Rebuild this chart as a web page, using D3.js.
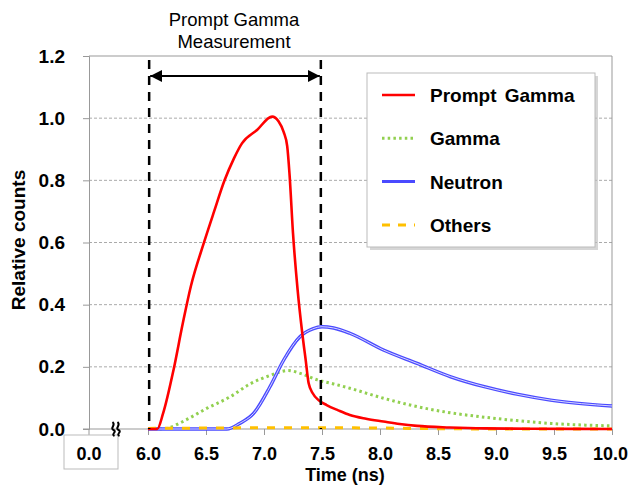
<!DOCTYPE html>
<html><head><meta charset="utf-8">
<script src="https://cdn.jsdelivr.net/npm/d3@7"></script>
<style>body{margin:0;background:#fff;} svg{display:block;font-family:"Liberation Sans",Arial,sans-serif;}</style>
</head><body>
<script>
const xTicks = [6.0, 6.5, 7.0, 7.5, 8.0, 8.5, 9.0, 9.5, 10.0];
const yTicks = [0, 0.2, 0.4, 0.6, 0.8, 1.0, 1.2];
const seriesNames = ["Prompt Gamma", "Gamma", "Neutron", "Others"];
const promptT = [6.0,6.08,6.13,6.22,6.30,6.37,6.48,6.57,6.66,6.74,6.81,6.94,7.07,7.125,7.17,7.20,7.22,7.25,7.29,7.33,7.36,7.385,7.42,7.47,7.54,7.64,7.74,7.88,8.03,8.17,8.32,8.6,8.9,9.3,10.0];
const promptV = [0,0,0.05,0.19,0.34,0.46,0.597,0.70,0.80,0.87,0.919,0.962,1.005,0.99,0.955,0.91,0.82,0.63,0.447,0.308,0.22,0.147,0.115,0.093,0.077,0.06,0.045,0.033,0.024,0.016,0.01,0.005,0.002,0.001,0];
const gammaT = [6.1,6.16,6.30,6.51,6.71,6.88,7.05,7.21,7.32,7.46,7.6,7.74,8.03,8.32,8.61,8.9,9.18,9.47,10.0];
const gammaV = [0,0.002,0.024,0.067,0.104,0.145,0.172,0.188,0.178,0.158,0.145,0.131,0.099,0.072,0.052,0.038,0.027,0.018,0.01];
const neutronT = [6.0,6.68,6.79,6.91,7.05,7.17,7.31,7.42,7.5,7.6,7.74,8.03,8.32,8.61,8.9,9.18,9.47,10.0];
const neutronV = [0,0,0.018,0.05,0.135,0.222,0.297,0.322,0.329,0.325,0.308,0.254,0.211,0.168,0.136,0.112,0.093,0.074];
const othersT = [6.0,6.5,7.0,7.5,8.0,8.5,9.0,10.0];
const othersV = [0.002,0.003,0.004,0.004,0.003,0.001,0,0];
const windowStart = 6.01, windowEnd = 7.49;

const W = 629, H = 494;
const FS = 19, XFS = 18;
const svg = d3.select("body").append("svg").attr("width", W).attr("height", H);
const x = d3.scaleLinear().domain([6, 10]).range([148, 612]);
const y = d3.scaleLinear().domain([0, 1.2]).range([429, 56]);
const x0 = 89;
const axisCol = "#999";

// gridlines
svg.append("g").selectAll("line").data(yTicks.filter(d => d > 0 && d < 1.2)).join("line")
  .attr("x1", x0).attr("x2", 612).attr("y1", d => y(d)).attr("y2", d => y(d))
  .attr("stroke", "#aaa").attr("stroke-width", 1).attr("stroke-dasharray", "3,2");

// frame top and right
svg.append("line").attr("x1", x0).attr("x2", 612).attr("y1", 56).attr("y2", 56).attr("stroke", axisCol);
svg.append("line").attr("x1", 612).attr("x2", 612).attr("y1", 56).attr("y2", 429).attr("stroke", axisCol);

// y axis
const yAxis = d3.axisLeft(y).tickValues(yTicks).tickFormat(d3.format(".1f")).tickSize(6).tickPadding(18);
const gy = svg.append("g").attr("transform", `translate(${x0},0)`).call(yAxis);
gy.select(".domain").attr("stroke", axisCol);
gy.selectAll(".tick line").attr("stroke", axisCol);
gy.selectAll("text").attr("font-size", FS).attr("font-weight", "bold").attr("fill", "#000")
  .attr("font-family", "Liberation Sans, Arial, sans-serif");

// x axis
const xAxis = d3.axisBottom(x).tickValues(xTicks).tickFormat(d3.format(".1f")).tickSize(6).tickPadding(12);
const gx = svg.append("g").attr("transform", `translate(0,429)`).call(xAxis);
gx.select(".domain").remove();
gx.selectAll(".tick line").attr("stroke", axisCol);
gx.selectAll("text").attr("font-size", XFS).attr("font-weight", "bold").attr("fill", "#000")
  .attr("font-family", "Liberation Sans, Arial, sans-serif")
  .attr("dx", d => d === 10 ? -2 : 0);
svg.append("line").attr("x1", 83).attr("x2", 612).attr("y1", 429).attr("y2", 429).attr("stroke", axisCol);
// zero tick before break
svg.append("line").attr("x1", x0).attr("x2", x0).attr("y1", 429).attr("y2", 435).attr("stroke", axisCol);
svg.append("rect").attr("x", 64).attr("y", 435).attr("width", 54).attr("height", 34)
  .attr("fill", "none").attr("stroke", "#bbb");
svg.append("text").attr("x", x0).attr("y", 460).attr("text-anchor", "middle")
  .attr("font-size", XFS).attr("font-weight", "bold").text("0.0");
// break symbol
const brk = svg.append("g").attr("transform", "translate(116,429)");
[-2.5, 2.5].forEach(dx => {
  brk.append("path").attr("d", `M${dx-1},-7 C${dx+3},-4 ${dx-4},-1 ${dx},1 C${dx+4},3 ${dx-3},5 ${dx+1},7`)
    .attr("fill", "none").attr("stroke", "#000").attr("stroke-width", 2);
});

// axis titles
svg.append("text").attr("transform", "translate(25,240) rotate(-90)").attr("text-anchor", "middle")
  .attr("font-size", FS).attr("font-weight", "bold").text("Relative counts");
svg.append("text").attr("x", 345).attr("y", 481).attr("text-anchor", "middle")
  .attr("font-size", XFS).attr("font-weight", "bold").text("Time (ns)");

// series
const line = d3.line().x(d => x(d[0])).y(d => y(d[1])).curve(d3.curveMonotoneX);
const zip = (a, b) => a.map((t, i) => [t, b[i]]);
svg.append("path").datum(zip(gammaT, gammaV)).attr("d", line).attr("fill", "none")
  .attr("stroke", "#92d050").attr("stroke-width", 3).attr("stroke-dasharray", "2.5,3.2");
const nPath = svg.append("g");
nPath.append("path").datum(zip(neutronT, neutronV)).attr("d", line).attr("fill", "none")
  .attr("stroke", "#4a4aff").attr("stroke-width", 3.4);
nPath.append("path").datum(zip(neutronT, neutronV)).attr("d", line).attr("fill", "none")
  .attr("stroke", "#d8d8ff").attr("stroke-width", 1);
svg.append("path").datum(zip(othersT, othersV)).attr("d", line).attr("fill", "none")
  .attr("stroke", "#ffc000").attr("stroke-width", 3).attr("stroke-dasharray", "8,9");
svg.append("path").datum(zip(promptT, promptV)).attr("d", line).attr("fill", "none")
  .attr("stroke", "#ff0000").attr("stroke-width", 2.6);

// measurement window
[windowStart, windowEnd].forEach(t => {
  svg.append("line").attr("x1", x(t)).attr("x2", x(t)).attr("y1", 60).attr("y2", 429)
    .attr("stroke", "#000").attr("stroke-width", 2.5).attr("stroke-dasharray", "9,7");
});
const defs = svg.append("defs");
defs.append("marker").attr("id", "ah").attr("viewBox", "0 0 10 10").attr("refX", 10).attr("refY", 5)
  .attr("markerWidth", 6).attr("markerHeight", 6).attr("markerUnits", "strokeWidth").attr("orient", "auto-start-reverse")
  .append("path").attr("d", "M0,0 L10,5 L0,10 Z").attr("fill", "#000");
svg.append("line").attr("x1", x(windowStart) + 1).attr("x2", x(windowEnd) - 1).attr("y1", 76).attr("y2", 76)
  .attr("stroke", "#000").attr("stroke-width", 2).attr("marker-start", "url(#ah)").attr("marker-end", "url(#ah)");
svg.append("text").attr("x", 234).attr("y", 26).attr("text-anchor", "middle").attr("font-size", 18.5).text("Prompt Gamma");
svg.append("text").attr("x", 234).attr("y", 48).attr("text-anchor", "middle").attr("font-size", 18.5).text("Measurement");

// legend
const lg = svg.append("g");
lg.append("rect").attr("x", 370).attr("y", 76).attr("width", 228).attr("height", 174).attr("fill", "#bbb").attr("opacity", 0.6);
lg.append("rect").attr("x", 367).attr("y", 73).attr("width", 228).attr("height", 174).attr("fill", "#fff").attr("stroke", "#bbb");
const legStyles = [
  {c: "#ff0000", w: 2.6, dash: null},
  {c: "#92d050", w: 3, dash: "2.5,3.2"},
  {c: "#4a4aff", w: 3, dash: null},
  {c: "#ffc000", w: 3, dash: "8,8"}
];
seriesNames.forEach((n, i) => {
  const yy = 95 + i * 43.3;
  lg.append("line").attr("x1", 382).attr("x2", 415).attr("y1", yy).attr("y2", yy)
    .attr("stroke", legStyles[i].c).attr("stroke-width", legStyles[i].w)
    .attr("stroke-dasharray", legStyles[i].dash);
  lg.append("text").attr("x", 430).attr("y", yy + 7).attr("font-size", FS).attr("font-weight", "bold")
    .attr("word-spacing", 3).text(n);
});
</script>
</body></html>
